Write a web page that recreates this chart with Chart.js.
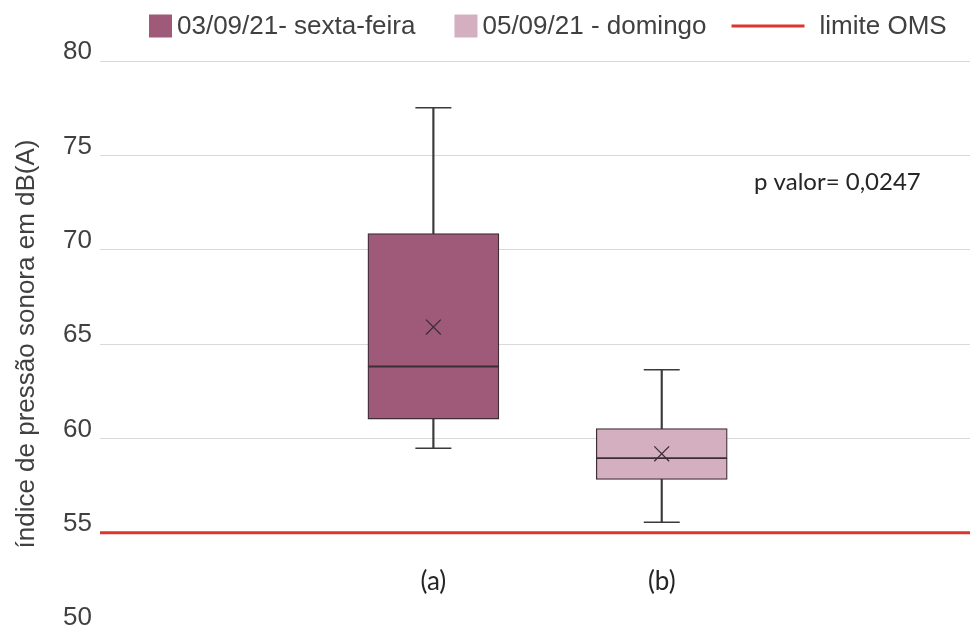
<!DOCTYPE html>
<html><head><meta charset="utf-8">
<script src="https://cdn.jsdelivr.net/npm/chart.js@4.4.0/dist/chart.umd.min.js"></script>
<style>html,body{margin:0;padding:0;background:#fff;}#wrap{width:970px;height:628px;}</style>
</head><body><div id="wrap"><canvas id="c" width="970" height="628"></canvas></div>
<script>
// ---- data ----
const categories = ['(a)', '(b)'];
const seriesNames = ['03/09/21- sexta-feira', '05/09/21 - domingo'];
const whiskerMin = [59.48, 55.55];
const quartile1 = [61.02, 57.82];
const medians = [63.81, 58.95];
const quartile3 = [70.85, 60.52];
const whiskerMax = [77.52, 63.63];
const means = [65.9, 59.18];
const limitName = 'limite OMS';
const limitValue = 55;
const yTicks = [50, 55, 60, 65, 70, 75, 80];
const pValueText = 'p valor= 0,0247';

// ---- styles ----
const boxColors = ['#9e5a78', '#d4afc0'];
const edgeColor = '#3d2e36';
const whiskerColor = '#3a3a3a';
const limitColor = '#d9372b';
const X_MIN = -1.46, X_MAX = 2.35;
const SANS = '"Liberation Sans", Arial, sans-serif';
const CAL = 'Lato, "Open Sans", sans-serif';

const idx = categories.map((c, i) => i);

const legendPlugin = {
  id: 'boxLegend',
  afterDraw(chart) {
    const ctx = chart.ctx;
    ctx.save();
    ctx.font = '26px ' + SANS;
    ctx.textBaseline = 'middle';
    ctx.textAlign = 'left';
    const cy = 26;
    let x = 149;
    seriesNames.forEach((name, i) => {
      ctx.fillStyle = boxColors[i];
      ctx.fillRect(x, cy - 11.5, 23, 23);
      x += 28;
      ctx.fillStyle = '#404040';
      ctx.fillText(name, x, cy + 1);
      x += ctx.measureText(name).width + (i === seriesNames.length - 1 ? 25 : 39);
    });
    ctx.strokeStyle = limitColor;
    ctx.lineWidth = 3;
    ctx.beginPath();
    ctx.moveTo(x, cy); ctx.lineTo(x + 73, cy); ctx.stroke();
    x += 88;
    ctx.fillStyle = '#404040';
    ctx.fillText(limitName, x, cy + 1);
    // p value annotation
    ctx.font = '24px ' + CAL;
    ctx.fillStyle = '#262626';
    ctx.fillText(pValueText, 754, 182);
    ctx.restore();
  }
};

new Chart(document.getElementById('c'), {
  type: 'bar',
  data: {
    datasets: [
      {
        type: 'scatter', label: 'média',
        data: idx.map(i => ({x: i, y: means[i]})),
        pointStyle: 'crossRot', pointRadius: 10.5, borderColor: edgeColor, borderWidth: 1.3,
        backgroundColor: 'rgba(0,0,0,0)'
      },
      {
        type: 'scatter', label: 'caps',
        data: idx.flatMap(i => [{x: i, y: whiskerMax[i]}, {x: i, y: whiskerMin[i]}]),
        pointStyle: 'line', pointRadius: 18, borderColor: whiskerColor, borderWidth: 1.5
      },
      {
        label: 'Q3', grouped: false, barThickness: 131,
        data: idx.map(i => ({x: i, y: [medians[i], quartile3[i]]})),
        backgroundColor: boxColors, borderColor: edgeColor, borderWidth: 1.3, borderSkipped: false
      },
      {
        label: 'Q1', grouped: false, barThickness: 131,
        data: idx.map(i => ({x: i, y: [quartile1[i], medians[i]]})),
        backgroundColor: boxColors, borderColor: edgeColor, borderWidth: 1.3, borderSkipped: false
      },
      {
        label: 'whiskers', grouped: false, barThickness: 1.5,
        data: idx.map(i => ({x: i, y: [whiskerMin[i], whiskerMax[i]]})),
        backgroundColor: whiskerColor, borderWidth: 0
      },
      {
        type: 'line', label: limitName,
        data: [{x: X_MIN, y: limitValue}, {x: X_MAX, y: limitValue}],
        borderColor: limitColor, borderWidth: 3, pointRadius: 0
      }
    ]
  },
  options: {
    responsive: false,
    devicePixelRatio: 1,
    animation: false,
    layout: {autoPadding: false, padding: {top: 61, bottom: 1, left: 0, right: 0}},
    plugins: {legend: {display: false}, tooltip: {enabled: false}},
    scales: {
      x: {
        type: 'linear', min: X_MIN, max: X_MAX, offset: false,
        position: {y: 53.45},
        afterBuildTicks: s => { s.ticks = idx.map(i => ({value: i})); },
        afterFit: s => { s.paddingLeft = 0; s.paddingRight = 0; },
        ticks: {
          callback: v => categories[v], autoSkip: false, maxRotation: 0,
          font: {family: CAL, size: 26}, color: '#262626', padding: 4
        },
        grid: {display: false, drawTicks: false},
        border: {display: false}
      },
      y: {
        min: 50, max: 80,
        afterBuildTicks: s => { s.ticks = yTicks.map(v => ({value: v})); },
        afterFit: s => { s.width = 100; s.paddingTop = 0; s.paddingBottom = 0; },
        grid: {
          color: c => (c.tick && c.tick.value === 50) ? 'rgba(0,0,0,0)' : '#d9d9d9',
          drawTicks: false, lineWidth: 1
        },
        border: {display: false},
        ticks: {padding: 8, labelOffset: -9, color: '#404040', font: {family: SANS, size: 26}},
        title: {
          display: true, text: 'índice de pressão sonora em dB(A)', color: '#404040',
          font: {family: SANS, size: 26}, padding: {top: 11, bottom: 0}
        }
      }
    }
  },
  plugins: [legendPlugin]
});
</script>
</body></html>
